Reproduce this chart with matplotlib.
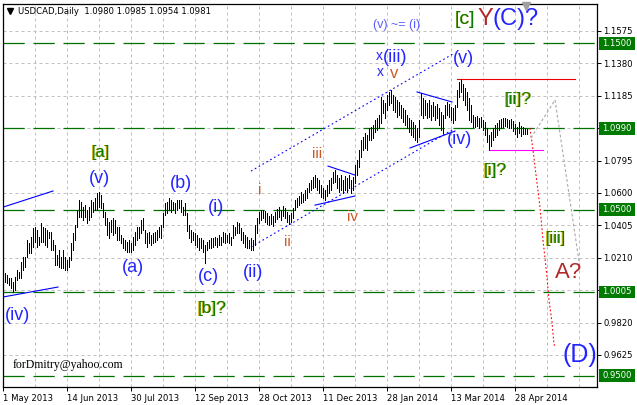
import matplotlib
matplotlib.use("Agg")
import matplotlib.pyplot as plt
from matplotlib import transforms
from matplotlib.patches import Rectangle

# daily bars, USDCAD (high / low)
highs = [
    1.0118, 1.0106, 1.0088, 1.0088, 1.0064, 1.0094, 1.0136, 1.0124, 1.0184, 1.0214,
    1.0214, 1.0317, 1.0299, 1.0335, 1.0389, 1.0395, 1.0377, 1.0335, 1.0419, 1.0395,
    1.0389, 1.0377, 1.0365, 1.0365, 1.0317, 1.0287, 1.0226, 1.0257, 1.0214, 1.0257,
    1.0214, 1.0196, 1.0214, 1.0299, 1.0359, 1.0407, 1.0497, 1.0558, 1.0546, 1.0515,
    1.0527, 1.0497, 1.0515, 1.0558, 1.0546, 1.0570, 1.0600, 1.0606, 1.0588, 1.0540,
    1.0485, 1.0449, 1.0425, 1.0437, 1.0449, 1.0437, 1.0395, 1.0395, 1.0347, 1.0329,
    1.0317, 1.0305, 1.0317, 1.0299, 1.0335, 1.0365, 1.0395, 1.0395, 1.0437, 1.0449,
    1.0377, 1.0359, 1.0365, 1.0347, 1.0359, 1.0365, 1.0377, 1.0395, 1.0407, 1.0479,
    1.0540, 1.0546, 1.0570, 1.0558, 1.0546, 1.0540, 1.0558, 1.0558, 1.0558, 1.0515,
    1.0540, 1.0479, 1.0407, 1.0377, 1.0365, 1.0359, 1.0347, 1.0329, 1.0329, 1.0317,
    1.0287, 1.0305, 1.0317, 1.0329, 1.0329, 1.0335, 1.0329, 1.0347, 1.0335, 1.0365,
    1.0359, 1.0347, 1.0359, 1.0335, 1.0407, 1.0395, 1.0425, 1.0419, 1.0389, 1.0365,
    1.0347, 1.0335, 1.0317, 1.0329, 1.0317, 1.0407, 1.0449, 1.0485, 1.0497, 1.0497,
    1.0491, 1.0479, 1.0461, 1.0473, 1.0461, 1.0485, 1.0503, 1.0515, 1.0497, 1.0521,
    1.0509, 1.0485, 1.0467, 1.0479, 1.0509, 1.0558, 1.0570, 1.0582, 1.0606, 1.0594,
    1.0618, 1.0630, 1.0660, 1.0678, 1.0696, 1.0708, 1.0690, 1.0678, 1.0648, 1.0630,
    1.0618, 1.0648, 1.0678, 1.0690, 1.0726, 1.0738, 1.0708, 1.0690, 1.0708, 1.0678,
    1.0702, 1.0690, 1.0708, 1.0678, 1.0696, 1.0768, 1.0798, 1.0859, 1.0919, 1.0937,
    1.0961, 1.0949, 1.0991, 1.0997, 1.1009, 1.1039, 1.1051, 1.1069, 1.1178, 1.1160,
    1.1142, 1.1190, 1.1208, 1.1220, 1.1190, 1.1178, 1.1160, 1.1148, 1.1130, 1.1111,
    1.1099, 1.1069, 1.1051, 1.1039, 1.1027, 1.1009, 1.0991, 1.1039, 1.1202, 1.1172,
    1.1160, 1.1142, 1.1160, 1.1130, 1.1148, 1.1124, 1.1136, 1.1111, 1.1087, 1.1069,
    1.1130, 1.1148, 1.1136, 1.1118, 1.1111, 1.1130, 1.1220, 1.1268, 1.1286, 1.1256,
    1.1232, 1.1208, 1.1172, 1.1130, 1.1069, 1.1057, 1.1063, 1.1051, 1.1057, 1.1039,
    1.1027, 1.0991, 1.0949, 1.0967, 1.0991, 1.1009, 1.1021, 1.1039, 1.1045, 1.1051,
    1.1051, 1.1045, 1.1039, 1.1045, 1.1033, 1.1015, 1.0997, 1.1027, 1.1003, 1.0997,
    1.0991, 1.0985]
lows = [
    1.0064, 1.0058, 1.0046, 1.0028, 1.0004, 1.0016, 1.0076, 1.0088, 1.0088, 1.0136,
    1.0154, 1.0214, 1.0239, 1.0239, 1.0275, 1.0305, 1.0275, 1.0287, 1.0305, 1.0305,
    1.0287, 1.0275, 1.0329, 1.0257, 1.0257, 1.0166, 1.0166, 1.0154, 1.0148, 1.0148,
    1.0136, 1.0136, 1.0154, 1.0196, 1.0257, 1.0317, 1.0395, 1.0455, 1.0455, 1.0437,
    1.0455, 1.0419, 1.0437, 1.0455, 1.0485, 1.0497, 1.0497, 1.0515, 1.0509, 1.0455,
    1.0407, 1.0347, 1.0329, 1.0365, 1.0347, 1.0359, 1.0317, 1.0317, 1.0299, 1.0269,
    1.0257, 1.0245, 1.0245, 1.0245, 1.0257, 1.0287, 1.0317, 1.0329, 1.0359, 1.0377,
    1.0299, 1.0275, 1.0299, 1.0287, 1.0299, 1.0305, 1.0317, 1.0335, 1.0329, 1.0395,
    1.0467, 1.0479, 1.0497, 1.0485, 1.0497, 1.0479, 1.0497, 1.0509, 1.0485, 1.0467,
    1.0467, 1.0371, 1.0329, 1.0305, 1.0317, 1.0287, 1.0275, 1.0257, 1.0269, 1.0245,
    1.0178, 1.0257, 1.0269, 1.0269, 1.0275, 1.0287, 1.0275, 1.0287, 1.0287, 1.0305,
    1.0299, 1.0305, 1.0299, 1.0287, 1.0329, 1.0347, 1.0359, 1.0359, 1.0317, 1.0299,
    1.0275, 1.0269, 1.0269, 1.0257, 1.0257, 1.0287, 1.0359, 1.0419, 1.0437, 1.0449,
    1.0425, 1.0413, 1.0407, 1.0413, 1.0401, 1.0425, 1.0443, 1.0455, 1.0437, 1.0461,
    1.0449, 1.0425, 1.0413, 1.0425, 1.0449, 1.0497, 1.0515, 1.0527, 1.0540, 1.0546,
    1.0558, 1.0570, 1.0606, 1.0618, 1.0630, 1.0636, 1.0618, 1.0600, 1.0576, 1.0570,
    1.0558, 1.0582, 1.0600, 1.0618, 1.0660, 1.0666, 1.0630, 1.0606, 1.0618, 1.0600,
    1.0618, 1.0606, 1.0630, 1.0600, 1.0618, 1.0660, 1.0708, 1.0757, 1.0817, 1.0859,
    1.0871, 1.0859, 1.0919, 1.0919, 1.0931, 1.0967, 1.0979, 1.0991, 1.1021, 1.1081,
    1.1051, 1.1099, 1.1130, 1.1142, 1.1099, 1.1087, 1.1057, 1.1069, 1.1051, 1.1027,
    1.1009, 1.0991, 1.0967, 1.0949, 1.0937, 1.0919, 1.0907, 1.0937, 1.1069, 1.1051,
    1.1069, 1.1051, 1.1057, 1.1039, 1.1063, 1.1039, 1.1051, 1.1009, 1.0979, 1.0961,
    1.1051, 1.1069, 1.1057, 1.1039, 1.1021, 1.1039, 1.1118, 1.1178, 1.1208, 1.1160,
    1.1130, 1.1099, 1.1039, 1.1027, 1.0997, 1.0997, 1.1003, 1.0991, 1.0997, 1.0979,
    1.0949, 1.0907, 1.0859, 1.0883, 1.0919, 1.0937, 1.0949, 1.0979, 1.0991, 1.0997,
    1.1003, 1.0997, 1.0991, 1.0991, 1.0973, 1.0955, 1.0937, 1.0961, 1.0943, 1.0955,
    1.0955, 1.0954]

date_labels = ["1 May 2013", "14 Jun 2013", "30 Jul 2013", "12 Sep 2013", "28 Oct 2013",
               "11 Dec 2013", "28 Jan 2014", "13 Mar 2014", "28 Apr 2014"]
price_ticks = [1.1575, 1.1380, 1.1185, 1.0990, 1.0795, 1.0600, 1.0405, 1.0210,
               1.0015, 0.9820, 0.9625]
levels = [1.1500, 1.0990, 1.0500, 1.0005, 0.9500]

# drawn objects on the chart: (bar, price) points
left_upper = [(-1, 1.0515), (24, 1.0612)]
left_lower = [(-1, 0.9974), (26.5, 1.0034)]
chan_upper = [(123, 1.0732), (224, 1.1437)]
chan_lower = [(123, 1.0275), (223.5, 1.0979)]
tri1_upper = [(161.5, 1.0762), (175, 1.0708)]
tri1_lower = [(155, 1.0527), (175, 1.0582)]
tri2_upper = [(206, 1.1208), (223.5, 1.1148)]
tri2_lower = [(202.5, 1.0871), (225, 1.0973)]
red_level = [(226, 1.1286), (285, 1.1286)]
magenta_level = [(242.5, 1.0859), (269, 1.0859)]
red_path = [(262.5, 1.0991), (264, 1.0859), (266, 1.0660), (267.5, 1.0515), (269, 1.0317),
            (271, 1.0094), (272, 0.9956), (273.5, 0.9823), (274.5, 0.9685), (276, 0.9685)]
gray_path = [(263, 1.0931), (275, 1.1160), (287.5, 1.0148)]

fig = plt.figure(figsize=(6.37, 4.05), dpi=100)
ax = fig.add_axes([3 / 637, 18 / 405, 594 / 637, 383 / 405])
ax.set_xlim(-1, 296)
ax.set_ylim(0.94324, 1.17375)

# grid
for k in range(1, 19):
    ax.axvline(-1 + 16 * k, color="#c0c0c0", lw=0.72, dashes=(3, 3), zorder=0)
for p in price_ticks:
    ax.axhline(p, color="#c0c0c0", lw=0.72, dashes=(3, 3), zorder=0)

# green levels
for lv in levels:
    ax.axhline(lv, color="#007000", lw=0.9, dashes=(17, 7), zorder=1)

# bars
xs = list(range(len(highs)))
ax.vlines(xs, lows, highs, color="black", lw=0.72, antialiased=False, zorder=3)


def seg(pts, **kw):
    ax.plot([p[0] for p in pts], [p[1] for p in pts], **kw)


seg(left_upper, color="blue", lw=0.8, zorder=2)
seg(left_lower, color="blue", lw=0.8, zorder=2)
seg(chan_upper, color="blue", lw=0.8, dashes=(1.5, 2.5), zorder=2)
seg(chan_lower, color="blue", lw=0.8, dashes=(1.5, 2.5), zorder=2)
seg(tri1_upper, color="blue", lw=0.8, zorder=2)
seg(tri1_lower, color="blue", lw=0.8, zorder=2)
seg(tri2_upper, color="blue", lw=0.8, zorder=2)
seg(tri2_lower, color="blue", lw=0.8, zorder=2)
seg(red_level, color="#ee0000", lw=0.8, zorder=2)
seg(magenta_level, color="#ff00ff", lw=0.8, zorder=2)
seg(red_path, color="#ff0000", lw=0.8, dashes=(1.5, 2.0), zorder=2)
seg(gray_path, color="#a8a8a8", lw=0.8, dashes=(2.5, 2.0), zorder=2)

# wave labels
wave = "Liberation Sans"
blue = "#2424ff"
orange = "#cc5a28"
green = "#0a7a00"
gold = "#c8b000"
brown = "#b02828"


def lbl(x, y, s, color, size, ha="center"):
    ax.text(x, y, s, color=color, fontsize=size, family=wave, ha=ha, va="center",
            zorder=5)


def glbl(x, y, s, size, ha="center"):
    off = transforms.offset_copy(ax.transData, fig=fig, x=-0.8, y=0, units="dots")
    ax.text(x, y, s, color=gold, fontsize=size, family=wave, ha=ha, va="center",
            transform=off, zorder=5)
    ax.text(x, y, s, color=green, fontsize=size, family=wave, ha=ha, va="center", zorder=5)


glbl(48, 1.0841, "[a]", 12)
lbl(47, 1.0690, "(v)", blue, 13)
lbl(6, 0.9865, "(iv)", blue, 13)
lbl(64, 1.0154, "(a)", blue, 13)
lbl(88, 1.0660, "(b)", blue, 13)
lbl(101.5, 1.0100, "(c)", blue, 13)
glbl(103.5, 0.9907, "[b]?", 12.5)
lbl(105.5, 1.0515, "(i)", blue, 13)
lbl(124, 1.0124, "(ii)", blue, 13)
lbl(127.5, 1.0618, "i", orange, 11)
lbl(141, 1.0305, "ii", orange, 11)
lbl(156, 1.0835, "iii", orange, 11)
lbl(174, 1.0455, "iv", orange, 11)
lbl(187, 1.1425, "x", blue, 10)
lbl(195, 1.1418, "(iii)", blue, 13)
lbl(187.5, 1.1328, "x", blue, 10)
lbl(194.5, 1.1322, "v", orange, 12)
lbl(196, 1.1611, "(v) ~= (i)", "#5a5aff", 9)
glbl(225, 1.1647, "[c]", 14, ha="left")
lbl(236, 1.1647, "Y", brown, 17, ha="left")
lbl(243.5, 1.1647, "(C)?", blue, 17, ha="left")
lbl(229, 1.1412, "(v)", blue, 13)
lbl(227.5, 1.0919, "(iv)", blue, 13)
glbl(256.5, 1.1160, "[ii]?", 12.5)
glbl(245, 1.0738, "[i]?", 12.5)
glbl(275.5, 1.0329, "[iii]", 12)
lbl(282, 1.0124, "A?", brown, 16)
lbl(278.5, 0.9625, "(D)", blue, 18, ha="left")
ax.text(4, 0.9564, "forDmitry@yahoo.com", family="Liberation Serif", fontsize=8.5,
        color="black", va="center", zorder=5)

# axes styling (MT4 look)
for sp in ax.spines.values():
    sp.set_color("black")
    sp.set_linewidth(0.9)
ax.yaxis.tick_right()
ax.set_yticks(price_ticks)
ax.set_yticklabels([f"{p:.4f}" for p in price_ticks])
ax.set_xticks([-1 + 32 * k for k in range(len(date_labels))])
ax.set_xticklabels(date_labels, ha="left")
ax.tick_params(axis="both", labelsize=6.1, length=3, width=0.7, pad=1.5, color="black")
ax.tick_params(axis="x", pad=2)

# green price boxes on the right scale
bt = transforms.blended_transform_factory(ax.transAxes, ax.transData)
for lv in levels:
    ax.add_patch(Rectangle((1.004, lv - 0.0038), 0.06, 0.0076, transform=bt,
                           fc="#007a00", ec="none", clip_on=False, zorder=6))
    ax.text(1.009, lv, f"{lv:.4f}", transform=bt, color="white", fontsize=6.1,
            va="center", ha="left", clip_on=False, zorder=7)

# header
fig.text(18 / 637, 1 - 11 / 405, "USDCAD,Daily  1.0980 1.0985 1.0954 1.0981",
         fontsize=6.1, va="center", ha="left")
fig.lines.append(plt.Line2D([10 / 637], [1 - 11 / 405], marker="v", ms=4.5, color="black",
                            transform=fig.transFigure))
fig.lines.append(plt.Line2D([526 / 637], [1 - 6 / 405], marker="v", ms=6, color="#a0a0a0",
                            transform=fig.transFigure))

fig.savefig("out.png", dpi=100)
